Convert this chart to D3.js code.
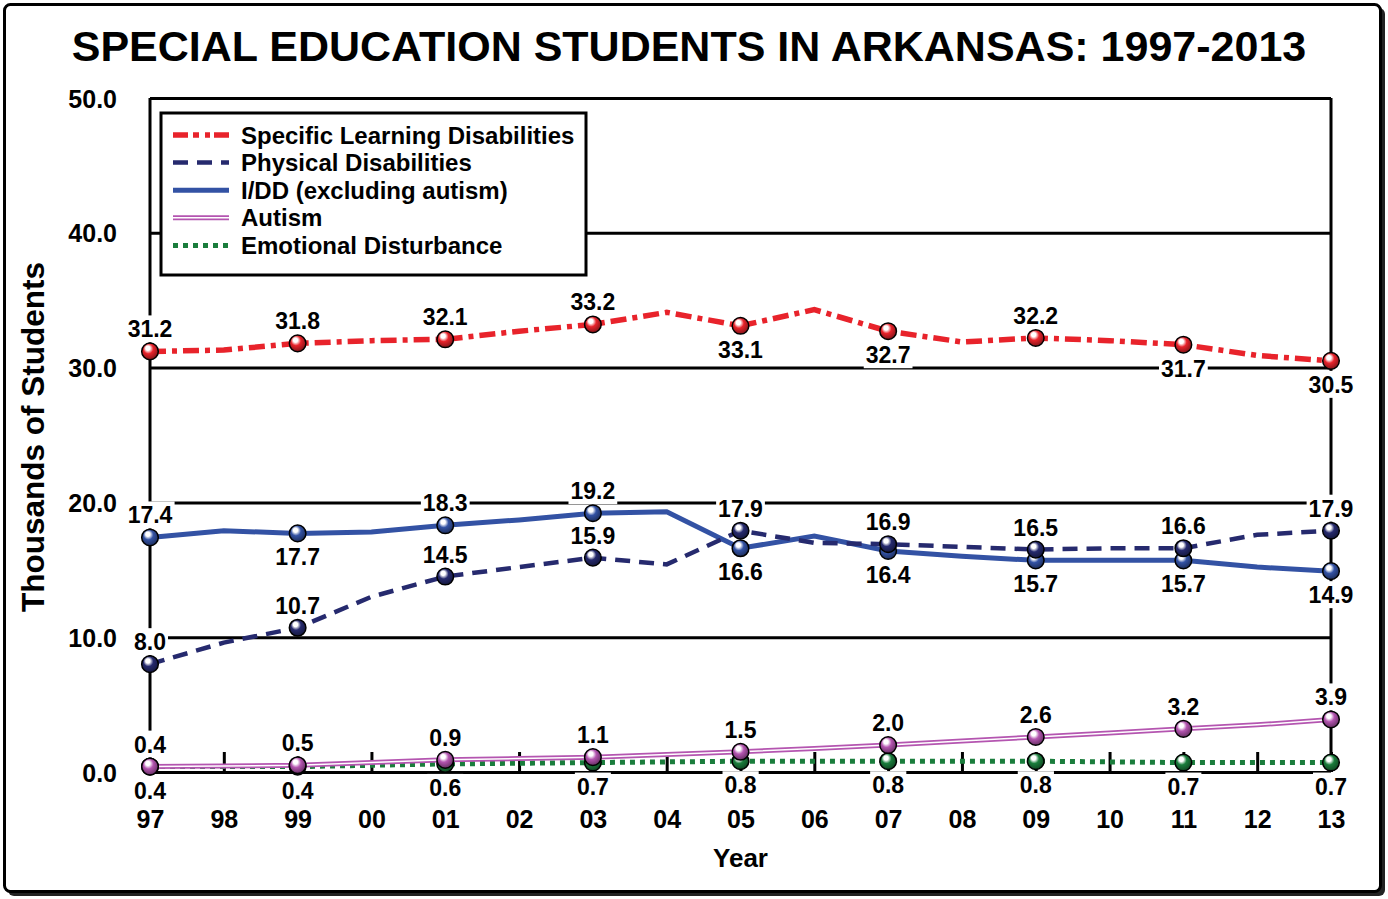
<!DOCTYPE html>
<html>
<head>
<meta charset="utf-8">
<title>Special Education Students in Arkansas</title>
<script src="https://cdnjs.cloudflare.com/ajax/libs/d3/7.8.5/d3.min.js"></script>
<style>
body { margin: 0; background: #fff; }
text { font-family: "Liberation Sans", Arial, Helvetica, sans-serif; font-weight: bold; fill: #000; }
.grid line { stroke: #000; stroke-width: 3; }
.grid path { display: none; }
.xaxis path { display: none; }
.xaxis line { stroke: #000; stroke-width: 3; }
</style>
</head>
<body>
<svg id="chart" width="1388" height="899"></svg>
<script>
// school years 1997 .. 2013, shown as two digit labels
var years = ["97","98","99","00","01","02","03","04","05","06","07","08","09","10","11","12","13"];

// thousands of students
var sld    = [31.2, 31.3, 31.8, 32.0, 32.1, 32.7, 33.2, 34.1, 33.1, 34.3, 32.7, 31.9, 32.2, 32.0, 31.7, 30.9, 30.5];
var phys   = [8.0, 9.6, 10.7, 13.0, 14.5, 15.2, 15.9, 15.4, 17.9, 17.0, 16.9, 16.7, 16.5, 16.6, 16.6, 17.6, 17.9];
var idd    = [17.4, 17.9, 17.7, 17.8, 18.3, 18.7, 19.2, 19.3, 16.6, 17.5, 16.4, 16.0, 15.7, 15.7, 15.7, 15.2, 14.9];
var autism = [0.4, 0.45, 0.5, 0.7, 0.9, 1.0, 1.1, 1.3, 1.5, 1.75, 2.0, 2.3, 2.6, 2.9, 3.2, 3.5, 3.9];
var emot   = [0.4, 0.4, 0.4, 0.5, 0.6, 0.65, 0.7, 0.75, 0.8, 0.8, 0.8, 0.8, 0.8, 0.75, 0.7, 0.7, 0.7];

var yTicks = [0, 10, 20, 30, 40, 50];

var series = [
  {name: "Specific Learning Disabilities", values: sld,    color: "#e8232b", width: 5.5, dash: "16,6,5,6", legendDash: "15,5,6,6,5,4,16",
   side: ["a","a","a","a","b","b","a","b","b"]},
  {name: "Physical Disabilities",          values: phys,   color: "#262a6e", width: 4.5, dash: "15,9", legendDash: "15,9",
   side: ["a","a","a","a","a","a","a","a","a"]},
  {name: "I/DD (excluding autism)",        values: idd,    color: "#3352a4", width: 5, dash: null, legendDash: null,
   side: ["a","b","a","a","b","b","b","b","b"]},
  {name: "Autism",                         values: autism, color: "#b455b0", width: 5, dash: null, legendDash: null, dbl: true,
   side: ["a","a","a","a","a","a","a","a","a"]},
  {name: "Emotional Disturbance",          values: emot,   color: "#1a7d3c", width: 5, dash: "5,5", legendDash: "5,5",
   side: ["b","b","b","b","b","b","b","b","b"]}
];

var svg = d3.select("#chart");
var margin = {left: 150, top: 98, right: 57, bottom: 127};
var W = 1388 - margin.left - margin.right;
var H = 899 - margin.top - margin.bottom;

var x = d3.scalePoint().domain(years).range([0, W]);
var y = d3.scaleLinear().domain([0, 50]).range([H, 0]);

// outer frame with a small drop shadow
svg.append("rect").attr("x", 8).attr("y", 8).attr("width", 1377).attr("height", 888).attr("rx", 6).style("fill", "#222");
svg.append("rect").attr("x", 4.5).attr("y", 4.5).attr("width", 1376).attr("height", 887).attr("rx", 6)
  .style("fill", "#fff").style("stroke", "#000").style("stroke-width", 3);

svg.append("text")
  .attr("x", 689).attr("y", 61)
  .attr("text-anchor", "middle")
  .style("font-size", "43px")
  .text("SPECIAL EDUCATION STUDENTS IN ARKANSAS: 1997-2013");

svg.append("text")
  .attr("transform", "translate(44,437) rotate(-90)")
  .attr("text-anchor", "middle")
  .style("font-size", "31.5px")
  .text("Thousands of Students");

var defs = svg.append("defs");
series.forEach(function(s, i) {
  var g = defs.append("radialGradient").attr("id", "ball" + i)
    .attr("cx", "45%").attr("cy", "40%").attr("r", "60%").attr("fx", "35%").attr("fy", "28%");
  g.append("stop").attr("offset", "0%").attr("stop-color", "#fff");
  g.append("stop").attr("offset", "22%").attr("stop-color", "#fff");
  g.append("stop").attr("offset", "50%").attr("stop-color", s.color);
  g.append("stop").attr("offset", "100%").attr("stop-color", d3.color(s.color).darker(1.6));
});

var g = svg.append("g").attr("transform", "translate(" + margin.left + "," + margin.top + ")");

// grid lines + y tick labels
g.append("g")
  .attr("class", "grid")
  .call(d3.axisLeft(y).tickValues(yTicks).tickSizeInner(-W).tickSizeOuter(0).tickPadding(33)
    .tickFormat(d3.format(".1f")))
  .selectAll("text").style("font-size", "25px").attr("dy", "0.36em");

// x axis ticks pointing up, labels below
var xAxis = g.append("g")
  .attr("class", "xaxis")
  .attr("transform", "translate(0," + H + ")")
  .call(d3.axisBottom(x).tickSizeInner(-20).tickSizeOuter(0).tickPadding(56));
xAxis.selectAll("text").style("font-size", "25px").attr("dy", "0");

g.append("line").attr("x1", 0).attr("x2", 0).attr("y1", 0).attr("y2", H)
  .style("stroke", "#000").style("stroke-width", 3);
g.append("line").attr("x1", W).attr("x2", W).attr("y1", 0).attr("y2", H)
  .style("stroke", "#000").style("stroke-width", 3);

g.append("text")
  .attr("x", W / 2).attr("y", H + 95)
  .attr("text-anchor", "middle")
  .style("font-size", "26px")
  .text("Year");

// value labels on white boxes (they cut the grid lines)
var labelLayer = g.append("g");
series.forEach(function(s) {
  var pts = s.values.map(function(v, i) { return {year: years[i], v: v}; })
    .filter(function(d, i) { return i % 2 === 0; });
  pts.forEach(function(d, k) {
    var above = s.side[k] === "a";
    var lg = labelLayer.append("g");
    var bg = lg.append("rect").style("fill", "#fff");
    var t = lg.append("text")
      .attr("x", x(d.year))
      .attr("y", y(d.v) + (above ? -14 : 32))
      .attr("text-anchor", "middle")
      .style("font-size", "23px")
      .text(d.v.toFixed(1));
    var b = t.node().getBBox();
    bg.attr("x", b.x - 2).attr("y", b.y - 1).attr("width", b.width + 4).attr("height", b.height + 1);
  });
});

var line = d3.line()
  .x(function(d, i) { return x(years[i]); })
  .y(function(d) { return y(d); });

// draw the bottom series first so the big ones sit on top
series.slice().reverse().forEach(function(s) {
  g.append("path")
    .datum(s.values)
    .attr("d", line)
    .style("fill", "none")
    .style("stroke", s.color)
    .style("stroke-width", s.width)
    .style("stroke-dasharray", s.dash);
  if (s.dbl) {
    g.append("path")
      .datum(s.values)
      .attr("d", line)
      .style("fill", "none")
      .style("stroke", "#fff")
      .style("stroke-width", 1.5);
  }
});

series.slice().reverse().forEach(function(s) {
  var i0 = series.indexOf(s);
  g.selectAll(".dot" + i0)
    .data(s.values.filter(function(d, i) { return i % 2 === 0; }))
    .enter().append("circle")
      .attr("cx", function(d, k) { return x(years[k * 2]); })
      .attr("cy", function(d) { return y(d); })
      .attr("r", 8.3)
      .style("fill", "url(#ball" + i0 + ")")
      .style("stroke", "#000")
      .style("stroke-width", 1.5);
});

// legend
var legend = svg.append("g").attr("transform", "translate(161,113)");
legend.append("rect")
  .attr("x", 0).attr("y", 0).attr("width", 425).attr("height", 162)
  .style("fill", "#fff").style("stroke", "#000").style("stroke-width", 3);

series.forEach(function(s, i) {
  var ly = 22 + i * 27.6;
  legend.append("line")
    .attr("x1", 12).attr("x2", 68).attr("y1", ly).attr("y2", ly)
    .style("stroke", s.color)
    .style("stroke-width", s.dbl ? 5 : s.width)
    .style("stroke-dasharray", s.legendDash);
  if (s.dbl) {
    legend.append("line")
      .attr("x1", 12).attr("x2", 68).attr("y1", ly).attr("y2", ly)
      .style("stroke", "#fff").style("stroke-width", 1.5);
  }
  legend.append("text")
    .attr("x", 80).attr("y", ly + 8.5)
    .style("font-size", "24px")
    .text(s.name);
});
</script>
</body>
</html>
